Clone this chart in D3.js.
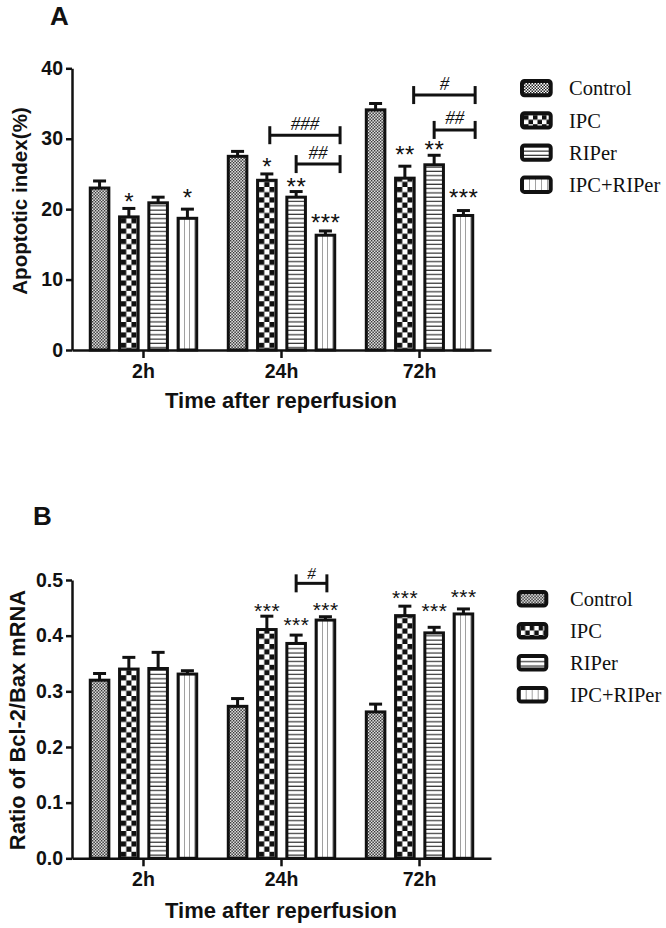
<!DOCTYPE html>
<html><head><meta charset="utf-8">
<script src="https://cdn.jsdelivr.net/npm/d3@7"></script>
<style>body{margin:0;background:#fff}</style>
</head><body>
<svg id="c" width="666" height="928"></svg>
<script>
// ---------- DATA ----------
const times = ["2h", "24h", "72h"];
const groups = ["Control", "IPC", "RIPer", "IPC+RIPer"];

// Panel A: Apoptotic index (%)
const apoControl = [23.0, 27.5, 34.1];
const apoIPC = [18.9, 24.1, 24.4];
const apoRIPer = [20.9, 21.7, 26.3];
const apoIPCRIPer = [18.7, 16.3, 19.1];
const apoControlErr = [1.0, 0.7, 0.9];
const apoIPCErr = [1.2, 0.9, 1.7];
const apoRIPerErr = [0.8, 0.8, 1.35];
const apoIPCRIPerErr = [1.3, 0.6, 0.7];
const apoTicks = [0, 10, 20, 30, 40];
const apoStars = [
  {time: "2h", group: "IPC", text: "*", v: 21.7},
  {time: "2h", group: "IPC+RIPer", text: "*", v: 22.3},
  {time: "24h", group: "IPC", text: "*", v: 26.7},
  {time: "24h", group: "RIPer", text: "**", v: 23.9},
  {time: "24h", group: "IPC+RIPer", text: "***", v: 18.75},
  {time: "72h", group: "IPC", text: "**", v: 28.4},
  {time: "72h", group: "RIPer", text: "**", v: 29.1},
  {time: "72h", group: "IPC+RIPer", text: "***", v: 22.3}
];
const apoBrackets = [
  {time: "24h", from: 1.1, to: 3.5, v: 30.5, text: "###"},
  {time: "24h", from: 2.0, to: 3.5, v: 26.4, text: "##"},
  {time: "72h", from: 1.3, to: 3.4, v: 36.2, text: "#"},
  {time: "72h", from: 2.0, to: 3.4, v: 31.25, text: "##"}
];

// Panel B: Ratio of Bcl-2/Bax mRNA
const bclControl = [0.320, 0.273, 0.263];
const bclIPC = [0.340, 0.411, 0.436];
const bclRIPer = [0.341, 0.386, 0.405];
const bclIPCRIPer = [0.331, 0.428, 0.439];
const bclControlErr = [0.012, 0.014, 0.014];
const bclIPCErr = [0.021, 0.024, 0.017];
const bclRIPerErr = [0.029, 0.015, 0.010];
const bclIPCRIPerErr = [0.006, 0.006, 0.009];
const bclTicks = [0.0, 0.1, 0.2, 0.3, 0.4, 0.5];
const bclStars = [
  {time: "24h", group: "IPC", text: "***", v: 0.453},
  {time: "24h", group: "RIPer", text: "***", v: 0.428},
  {time: "24h", group: "IPC+RIPer", text: "***", v: 0.455},
  {time: "72h", group: "IPC", text: "***", v: 0.476},
  {time: "72h", group: "RIPer", text: "***", v: 0.452},
  {time: "72h", group: "IPC+RIPer", text: "***", v: 0.478}
];
const bclBrackets = [
  {time: "24h", from: 2.0, to: 3.05, v: 0.494, text: "#"}
];

// ---------- DRAWING ----------
const svg = d3.select("#c");
const defs = svg.append("defs");
const INK = "#111";
const SANS = "'Liberation Sans', Arial, sans-serif";
const SERIF = "'Liberation Serif', 'Times New Roman', serif";
let pid = 0;

function makePattern(type, x0, y0, w) {
  const id = "p" + (pid++);
  const p = defs.append("pattern").attr("id", id).attr("patternUnits", "userSpaceOnUse");
  if (type === 0) { // fine checker
    const c = 1.5;
    p.attr("x", x0).attr("y", y0).attr("width", 2 * c).attr("height", 2 * c);
    p.append("rect").attr("width", 2 * c).attr("height", 2 * c).attr("fill", "#fff");
    p.append("rect").attr("x", 0).attr("y", 0).attr("width", c).attr("height", c).attr("fill", "#222");
    p.append("rect").attr("x", c).attr("y", c).attr("width", c).attr("height", c).attr("fill", "#222");
  } else if (type === 1) { // coarse checker
    const c = w / 3;
    p.attr("x", x0).attr("y", y0).attr("width", 2 * c).attr("height", 2 * c);
    p.append("rect").attr("width", 2 * c).attr("height", 2 * c).attr("fill", "#fff");
    p.append("rect").attr("x", 0).attr("y", 0).attr("width", c).attr("height", c).attr("fill", "#111");
    p.append("rect").attr("x", c).attr("y", c).attr("width", c).attr("height", c).attr("fill", "#111");
  } else if (type === 2) { // horizontal lines
    const s = 4.3;
    p.attr("x", x0).attr("y", y0).attr("width", 10).attr("height", s);
    p.append("rect").attr("width", 10).attr("height", s).attr("fill", "#fff");
    p.append("rect").attr("y", s - 1.2).attr("width", 10).attr("height", 1.2).attr("fill", "#333");
  } else { // vertical lines at thirds
    const s = w / 3;
    p.attr("x", x0).attr("y", y0).attr("width", s).attr("height", 10);
    p.append("rect").attr("width", s).attr("height", 10).attr("fill", "#fff");
    p.append("rect").attr("x", s - 0.5).attr("width", 1).attr("height", 10).attr("fill", "#444");
  }
  return "url(#" + id + ")";
}

function drawPanel(cfg) {
  const g = svg.append("g");
  const x = d3.scaleBand().domain(times).range([72, 491]).paddingInner(0).paddingOuter(0.018);
  const inner = d3.scaleBand().domain(groups).range([0, x.bandwidth()]).paddingInner(0.263).paddingOuter(0.488);
  const y = d3.scaleLinear().domain(cfg.domain).range(cfg.range);
  const bw = inner.bandwidth();
  const centerAt = (t, s) => x(t) + inner(groups[0]) + bw / 2 + s * inner.step();

  const rows = [];
  times.forEach((t, ti) => groups.forEach((gr, gi) => {
    rows.push({t, gr, gi, v: cfg.means[gi][ti], e: cfg.errs[gi][ti]});
  }));

  // error bars
  const eb = g.append("g").attr("stroke", INK).attr("stroke-width", 3).attr("fill", "none");
  rows.forEach(r => {
    const cx = x(r.t) + inner(r.gr) + bw / 2;
    eb.append("line").attr("x1", cx).attr("x2", cx).attr("y1", y(r.v)).attr("y2", y(r.v + r.e));
    eb.append("line").attr("x1", cx - 6.5).attr("x2", cx + 6.5).attr("y1", y(r.v + r.e)).attr("y2", y(r.v + r.e));
  });

  // bars
  rows.forEach(r => {
    const bx = x(r.t) + inner(r.gr);
    const fill = makePattern(r.gi, bx + 3, 0, bw - 6);
    g.append("rect")
      .attr("x", bx + 1.5).attr("y", y(r.v))
      .attr("width", bw - 3).attr("height", y(cfg.domain[0]) - y(r.v))
      .attr("fill", fill).attr("stroke", INK).attr("stroke-width", 3);
  });

  // axes
  const yAxis = g.append("g").attr("transform", `translate(72,0)`)
    .call(d3.axisLeft(y).tickValues(cfg.ticks).tickFormat(cfg.fmt).tickSize(6).tickSizeOuter(0).tickPadding(3));
  const xAxis = g.append("g").attr("transform", `translate(0,${y(cfg.domain[0])})`)
    .call(d3.axisBottom(x).tickSize(8).tickSizeOuter(0).tickPadding(6));
  [yAxis, xAxis].forEach(a => {
    a.selectAll("path,line").attr("stroke", INK).attr("stroke-width", 2.5);
    a.selectAll("text").attr("fill", INK).style("font-family", SANS)
      .style("font-weight", "bold").style("font-size", "19.5px");
  });

  // stars
  cfg.stars.forEach(s => {
    const cx = x(s.time) + inner(s.group) + bw / 2;
    g.append("text").attr("x", cx + cfg.starSpacing / 2).attr("y", y(s.v) + cfg.starSize * 0.55)
      .attr("text-anchor", "middle").attr("fill", INK)
      .style("font-family", SANS).style("font-size", cfg.starSize + "px")
      .style("letter-spacing", cfg.starSpacing + "px").text(s.text);
  });

  // brackets
  cfg.brackets.forEach(b => {
    const x1 = centerAt(b.time, b.from), x2 = centerAt(b.time, b.to), yy = y(b.v);
    const bg = g.append("g").attr("stroke", INK).attr("stroke-width", 3);
    bg.append("line").attr("x1", x1).attr("x2", x2).attr("y1", yy).attr("y2", yy);
    bg.append("line").attr("x1", x1).attr("x2", x1).attr("y1", yy - 9).attr("y2", yy + 9);
    bg.append("line").attr("x1", x2).attr("x2", x2).attr("y1", yy - 9).attr("y2", yy + 9);
    g.append("text").attr("x", (x1 + x2) / 2).attr("y", yy - cfg.hashGap)
      .attr("text-anchor", "middle").attr("fill", INK)
      .style("font-family", SERIF).style("font-style", "italic").style("font-size", cfg.hashSize + "px").text(b.text);
  });

  // axis titles
  g.append("text").attr("transform", `translate(${cfg.yTitleX},${cfg.yTitleY}) rotate(-90)`)
    .attr("text-anchor", "middle").attr("fill", INK)
    .style("font-family", SANS).style("font-weight", "bold").style("font-size", cfg.yTitleSize + "px")
    .text(cfg.yTitle);
  g.append("text").attr("x", 281).attr("y", cfg.xTitleY)
    .attr("text-anchor", "middle").attr("fill", INK)
    .style("font-family", SANS).style("font-weight", "bold").style("font-size", "22px")
    .text("Time after reperfusion");

  // panel letter
  g.append("text").attr("x", cfg.letterX).attr("y", cfg.letterY).attr("fill", INK)
    .style("font-family", SANS).style("font-weight", "bold").style("font-size", "26px").text(cfg.letter);

  // legend
  const lg = g.append("g");
  const legCell = [0, 13.5, 0, 18];
  groups.forEach((gr, gi) => {
    const top = cfg.legY + gi * cfg.legStep;
    const fill = makePattern(gi, cfg.legX + 4, top + 4, legCell[gi]);
    lg.append("rect").attr("x", cfg.legX + 2).attr("y", top + 2)
      .attr("width", cfg.legW - 4).attr("height", cfg.legH - 4).attr("rx", 2.5)
      .attr("fill", fill).attr("stroke", INK).attr("stroke-width", 4);
    lg.append("text").attr("x", cfg.legTextX).attr("y", top + cfg.legH / 2).attr("dy", "0.35em")
      .attr("fill", INK).style("font-family", SERIF).style("font-size", "20.5px").text(gr);
  });
}

drawPanel({
  domain: [0, 40], range: [350, 68.3], ticks: apoTicks, fmt: d3.format("d"),
  means: [apoControl, apoIPC, apoRIPer, apoIPCRIPer],
  errs: [apoControlErr, apoIPCErr, apoRIPerErr, apoIPCRIPerErr],
  stars: apoStars, brackets: apoBrackets,
  starSize: 24, starSpacing: 0.5, hashSize: 19, hashGap: 5.5,
  yTitle: "Apoptotic index(%)", yTitleX: 27, yTitleY: 201, yTitleSize: 20.6,
  xTitleY: 408, letter: "A", letterX: 50, letterY: 25,
  legX: 520, legY: 79, legStep: 32.2, legW: 32.7, legH: 18.3, legTextX: 569
});

drawPanel({
  domain: [0, 0.5], range: [858.3, 580], ticks: bclTicks, fmt: d3.format(".1f"),
  means: [bclControl, bclIPC, bclRIPer, bclIPCRIPer],
  errs: [bclControlErr, bclIPCErr, bclRIPerErr, bclIPCRIPerErr],
  stars: bclStars, brackets: bclBrackets,
  starSize: 21, starSpacing: 0.5, hashSize: 17, hashGap: 4.5,
  yTitle: "Ratio of Bcl-2/Bax mRNA", yTitleX: 25, yTitleY: 720, yTitleSize: 21.9,
  xTitleY: 918, letter: "B", letterX: 33, letterY: 525,
  legX: 516.7, legY: 590, legStep: 32, legW: 31.6, legH: 17.5, legTextX: 570
});
</script>
</body></html>
